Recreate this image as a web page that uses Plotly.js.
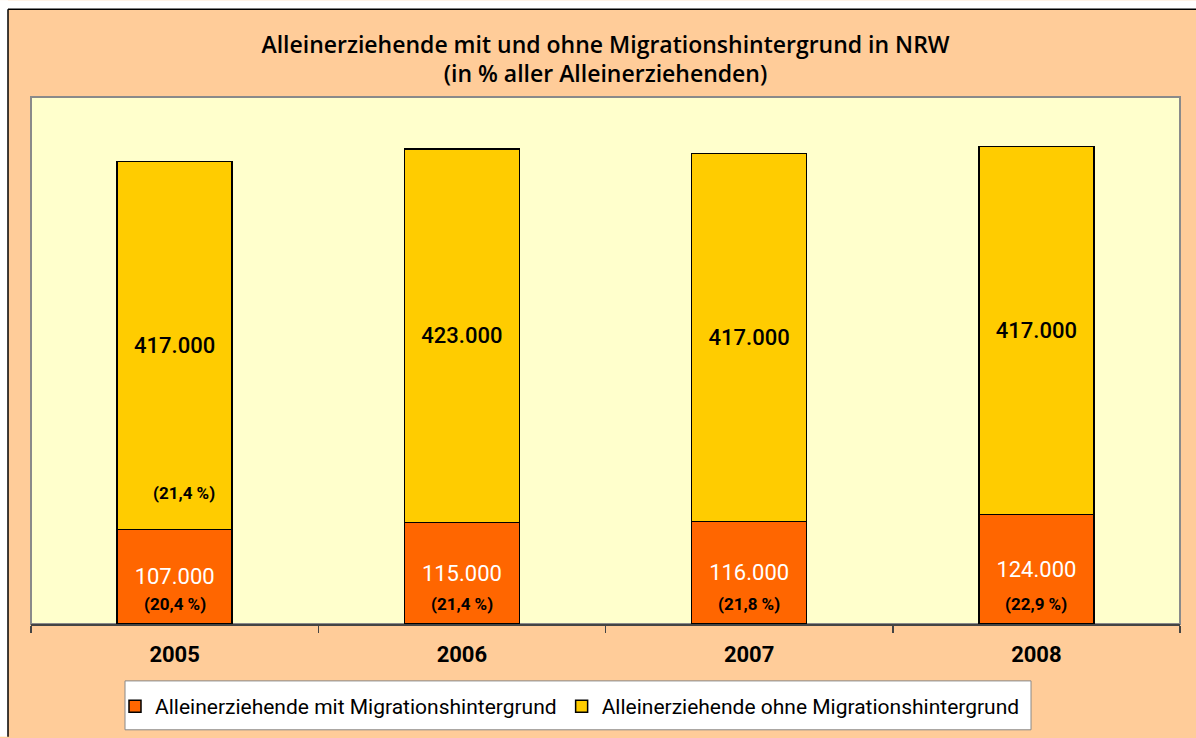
<!DOCTYPE html>
<html>
<head>
<meta charset="utf-8">
<script src="https://cdn.plot.ly/plotly-3.0.1.min.js"></script>
<style>html,body{margin:0;padding:0;background:#fff;overflow:hidden;}#chart{width:1196px;height:738px;}</style>
</head>
<body>
<div id="chart"></div>
<script>
const years = ['2005', '2006', '2007', '2008'];
const mitMigration = [107000, 115000, 116000, 124000];
const ohneMigration = [417000, 423000, 417000, 417000];
const mitPercentLabels = ['(20,4 %)', '(21,4 %)', '(21,8 %)', '(22,9 %)'];
const extraLabelYear = '2005';
const extraLabelText = '(21,4 %)';
const seriesNames = ['Alleinerziehende mit Migrationshintergrund', 'Alleinerziehende ohne Migrationshintergrund'];

const fmt = v => v.toLocaleString('de-DE');
const FONT = 'Roboto, "DejaVu Sans", sans-serif';
const TFONT = '"Open Sans", Roboto, sans-serif';

// plot area pixel geometry
const L = 31, R = 1180, T = 97, B = 625, W = 1196, H = 738;
const px = x => (x - L) / (R - L);
const py = y => (B - y) / (B - T);

const traces = [
  {
    type: 'bar', x: years, y: mitMigration, name: seriesNames[0],
    marker: {color: '#FF6600', line: {color: '#000', width: 1.5}},
    text: mitMigration.map(fmt), textposition: 'inside', insidetextanchor: 'middle',
    textangle: 0, constraintext: 'none',
    textfont: {color: '#fff', size: 22, family: FONT},
    width: 0.4, hoverinfo: 'none'
  },
  {
    type: 'bar', x: years, y: ohneMigration, name: seriesNames[1],
    marker: {color: '#FFCC00', line: {color: '#000', width: 1.5}},
    text: ohneMigration.map(fmt), textposition: 'inside', insidetextanchor: 'middle',
    textangle: 0, constraintext: 'none',
    textfont: {color: '#000', size: 22, family: FONT, weight: 500},
    width: 0.4, hoverinfo: 'none'
  }
];

const pctFont = {size: 17, color: '#000', family: FONT, weight: 'bold'};
const annotations = years.map((yr, i) => ({
  x: i, y: 0, xref: 'x', yref: 'y', text: mitPercentLabels[i], showarrow: false,
  yanchor: 'middle', yshift: 20, font: pctFont
}));
const ei = years.indexOf(extraLabelYear);
annotations.push({
  x: ei, y: mitMigration[ei], xref: 'x', yref: 'y',
  text: extraLabelText, showarrow: false, yanchor: 'middle', yshift: 37, xshift: 9,
  font: pctFont
});

const shapes = [
  {type: 'rect', xref: 'paper', yref: 'paper', x0: px(0), x1: px(W), y0: py(9), y1: py(0), fillcolor: '#fff', line: {width: 0}, layer: 'below'},
  {type: 'rect', xref: 'paper', yref: 'paper', x0: px(0), x1: px(8), y0: py(H), y1: py(0), fillcolor: '#fff', line: {width: 0}, layer: 'below'},
  {type: 'line', xref: 'paper', yref: 'paper', x0: px(8), x1: px(W), y0: py(9), y1: py(9), line: {color: '#000', width: 1.5}},
  {type: 'line', xref: 'paper', yref: 'paper', x0: px(8), x1: px(8), y0: py(9), y1: py(H), line: {color: '#000', width: 1.5}},
  {type: 'rect', xref: 'paper', yref: 'paper', x0: 0, x1: 1, y0: 0, y1: 1, line: {color: '#8a8a8a', width: 2}, layer: 'below'},
  // legend box
  {type: 'rect', xref: 'paper', yref: 'paper', x0: px(125), x1: px(1031), y0: py(731), y1: py(682), fillcolor: '#fff', line: {color: '#888', width: 1}, layer: 'below'}
];

const layout = {
  width: W, height: H,
  margin: {l: L, r: W - R, t: T, b: H - B, pad: 0},
  paper_bgcolor: '#FFCC99', plot_bgcolor: '#FFFFCC',
  barmode: 'stack', bargap: 0.6,
  font: {family: FONT, color: '#000'},
  title: {
    text: 'Alleinerziehende mit und ohne Migrationshintergrund in NRW<br>(in % aller Alleinerziehenden)',
    font: {size: 23, family: TFONT, color: '#000', weight: 600},
    x: 0.5, xref: 'paper', xanchor: 'center', y: 1 - 52.5 / H, yref: 'container', yanchor: 'middle'
  },
  xaxis: {
    type: 'category', range: [-0.5, years.length - 0.5], autorange: false,
    showline: true, linecolor: '#444', linewidth: 2,
    ticks: 'outside', tickson: 'boundaries', ticklen: 7, tickcolor: '#444', tickwidth: 1.5,
    tickfont: {size: 22, family: FONT, weight: 'bold', color: '#000'},
    ticklabelstandoff: 10,
    showgrid: false, zeroline: false, fixedrange: true
  },
  yaxis: {
    range: [0, 597000], autorange: false, visible: false, showgrid: false, zeroline: false, fixedrange: true
  },
  showlegend: true,
  legend: {
    orientation: 'h', x: px(115), xanchor: 'left', y: py(706.5), yanchor: 'middle',
    bgcolor: 'rgba(0,0,0,0)', borderwidth: 0,
    font: {size: 21, family: FONT, color: '#000'}, traceorder: 'normal'
  },
  annotations: annotations,
  shapes: shapes
};

Plotly.newPlot('chart', traces, layout, {displayModeBar: false, staticPlot: true});
</script>
</body>
</html>
